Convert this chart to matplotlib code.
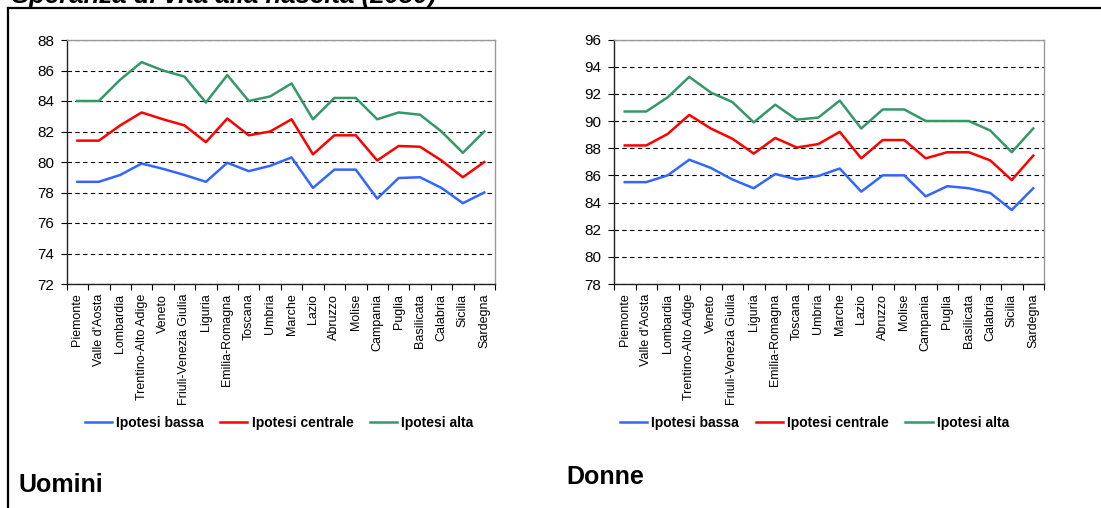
import matplotlib
matplotlib.use("Agg")
import matplotlib.pyplot as plt
from matplotlib.lines import Line2D
import numpy as np

regioni = [
    "Piemonte", "Valle d'Aosta", "Lombardia", "Trentino-Alto Adige", "Veneto",
    "Friuli-Venezia Giulia", "Liguria", "Emilia-Romagna", "Toscana", "Umbria",
    "Marche", "Lazio", "Abruzzo", "Molise", "Campania", "Puglia", "Basilicata",
    "Calabria", "Sicilia", "Sardegna",
]

# Uomini
uomini_bassa = [78.7, 78.7, 79.15, 79.9, 79.55, 79.15, 78.7, 79.95, 79.4, 79.75,
                80.3, 78.3, 79.5, 79.5, 77.6, 78.95, 79.0, 78.3, 77.3, 78.0]
uomini_centrale = [81.4, 81.4, 82.4, 83.25, 82.8, 82.4, 81.3, 82.85, 81.75, 82.0,
                   82.8, 80.5, 81.75, 81.75, 80.1, 81.05, 81.0, 80.1, 79.0, 80.0]
uomini_alta = [84.0, 84.0, 85.4, 86.55, 86.0, 85.6, 83.9, 85.7, 84.0, 84.3,
               85.15, 82.8, 84.2, 84.2, 82.8, 83.25, 83.1, 82.0, 80.6, 82.0]

# Donne
donne_bassa = [85.5, 85.5, 86.0, 87.15, 86.55, 85.7, 85.05, 86.1, 85.7, 85.95,
               86.5, 84.8, 86.0, 86.0, 84.45, 85.2, 85.05, 84.7, 83.45, 85.05]
donne_centrale = [88.2, 88.2, 89.05, 90.45, 89.45, 88.7, 87.6, 88.75, 88.05, 88.3,
                  89.2, 87.25, 88.6, 88.6, 87.25, 87.7, 87.7, 87.1, 85.65, 87.45]
donne_alta = [90.7, 90.7, 91.75, 93.25, 92.1, 91.4, 89.9, 91.2, 90.1, 90.25,
              91.5, 89.45, 90.85, 90.85, 90.0, 90.0, 90.0, 89.3, 87.7, 89.45]

plt.rcParams["font.family"] = ["Liberation Sans", "DejaVu Sans"]

BLUE = "#3366ff"
RED = "#ff0000"
GREEN = "#339966"

W, H = 1101, 508


def draw_panel(ax, bassa, centrale, alta, ymin, ymax):
    x = np.arange(len(regioni))
    ax.plot(x, bassa, color=BLUE, lw=1.8, label="Ipotesi bassa", zorder=3)
    ax.plot(x, centrale, color=RED, lw=1.8, label="Ipotesi centrale", zorder=3)
    ax.plot(x, alta, color=GREEN, lw=1.8, label="Ipotesi alta", zorder=3)

    ax.set_xlim(-0.5, len(regioni) - 0.5)
    ax.set_ylim(ymin, ymax)
    ax.set_yticks(np.arange(ymin, ymax + 1, 2))

    ax.yaxis.grid(True, color="black", linestyle=(0, (4, 3)), lw=0.8)
    ax.set_axisbelow(True)

    # ticks between categories, labels at the centres
    ax.set_xticks(np.arange(len(regioni) + 1) - 0.5)
    ax.set_xticklabels([])
    ax.set_xticks(x, minor=True)
    ax.set_xticklabels(regioni, minor=True, rotation=90, fontsize=9, va="top")
    ax.tick_params(axis="x", which="minor", length=0, pad=7)
    ax.tick_params(axis="x", which="major", length=4, direction="out", width=0.8)
    ax.tick_params(axis="y", length=4, labelsize=11, pad=5, width=0.8)

    ax.spines["left"].set_color("#222222")
    ax.spines["bottom"].set_color("#222222")
    ax.spines["top"].set_color("#999999")
    ax.spines["right"].set_color("#999999")
    for s in ax.spines.values():
        s.set_linewidth(1.0)


fig = plt.figure(figsize=(W / 100, H / 100), dpi=100)

ax1 = fig.add_axes([66.7 / W, 1 - 284 / H, (495 - 66.7) / W, (284 - 40) / H])
draw_panel(ax1, uomini_bassa, uomini_centrale, uomini_alta, 72, 88)

ax2 = fig.add_axes([614 / W, 1 - 284 / H, (1044 - 614) / W, (284 - 39.5) / H])
draw_panel(ax2, donne_bassa, donne_centrale, donne_alta, 78, 96)

for ax, cx in [(ax1, 279 / W), (ax2, 814.5 / W)]:
    ax.legend(loc="center", bbox_to_anchor=(cx, 1 - 423 / H),
              bbox_transform=fig.transFigure, ncol=3, frameon=False,
              prop={"size": 10, "weight": "bold"}, handlelength=1.95,
              handletextpad=0.3, columnspacing=1.2)

# the title is cut by the top edge in the original picture
fig.text(12 / W, 1 - 2.5 / H, "Speranza di vita alla nascita (2050)",
         fontsize=18.5, fontweight="bold", fontstyle="italic", va="baseline")
fig.text(18 / W, 1 - 492 / H, "Uomini", fontsize=18, fontweight="bold",
         va="baseline")
fig.text(566 / W, 1 - 484 / H, "Donne", fontsize=18, fontweight="bold",
         va="baseline")

# outer frame (left and top edges only are visible)
fig.add_artist(Line2D([8 / W, 8 / W], [0, 1 - 8 / H], color="black", lw=1.6,
                      transform=fig.transFigure))
fig.add_artist(Line2D([8 / W, 1], [1 - 8 / H, 1 - 8 / H], color="black", lw=1.6,
                      transform=fig.transFigure))

fig.savefig("out.png", dpi=100)
